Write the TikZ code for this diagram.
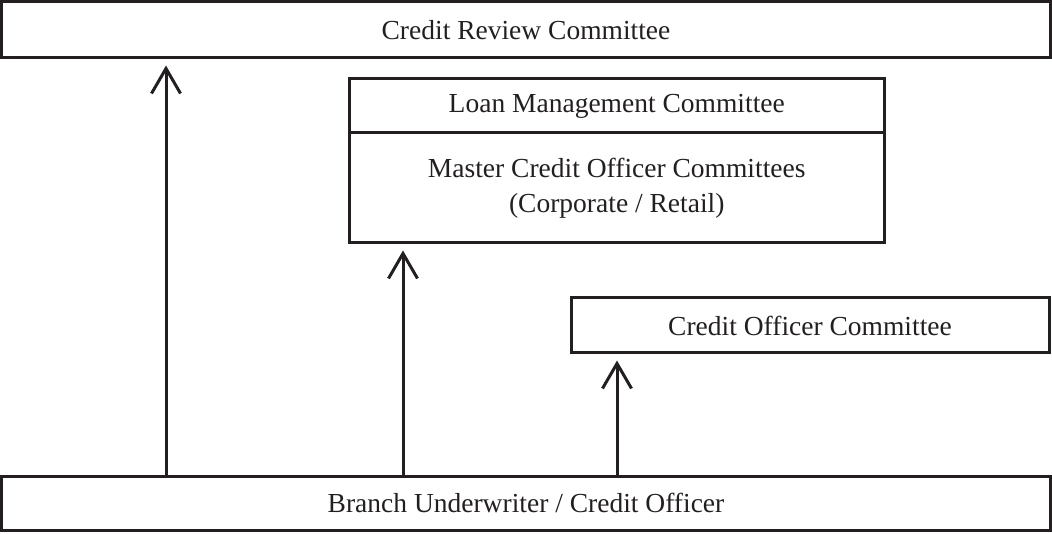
\documentclass[tikz,border=0pt]{standalone}
\usepackage{fontspec}
\setmainfont{Liberation Serif}
\usetikzlibrary{arrows.meta}
\definecolor{ink}{HTML}{231F20}
\begin{document}
\begin{tikzpicture}[x=1pt,y=-1pt,
  box/.style={draw=ink, line width=3pt, rectangle, inner sep=0pt, text=ink,
    font=\fontsize{27.5}{35}\selectfont, align=center},
  uparrow/.style={draw=ink, line width=3pt, shorten >=6pt,
    -{Straight Barb[length=25pt,width=29pt]}}]
\useasboundingbox (0,0) rectangle (1052,534);
\node[box, minimum width=1049pt, minimum height=56.5pt] (crc) at (526,29.75) {Credit Review Committee};
\node[box, minimum width=534.5pt, minimum height=54pt] (lmc) at (616.75,106) {Loan Management Committee};
\node[box, minimum width=534.5pt, minimum height=110pt] (mco) at (616.75,188) {Master Credit Officer Committees\\(Corporate / Retail)};
\node[box, minimum width=478pt, minimum height=55pt] (coc) at (810,325.5) {Credit Officer Committee};
\node[box, minimum width=1049pt, minimum height=54.5pt] (bu) at (526,503.25) {Branch Underwriter / Credit Officer};
\coordinate (a1) at (166,0);
\coordinate (a2) at (403,0);
\coordinate (a3) at (617,0);
\draw[uparrow] (bu.north -| a1) -- (crc.south -| a1);
\draw[uparrow] (bu.north -| a2) -- (mco.south -| a2);
\draw[uparrow] (bu.north -| a3) -- (coc.south -| a3);
\end{tikzpicture}
\end{document}
